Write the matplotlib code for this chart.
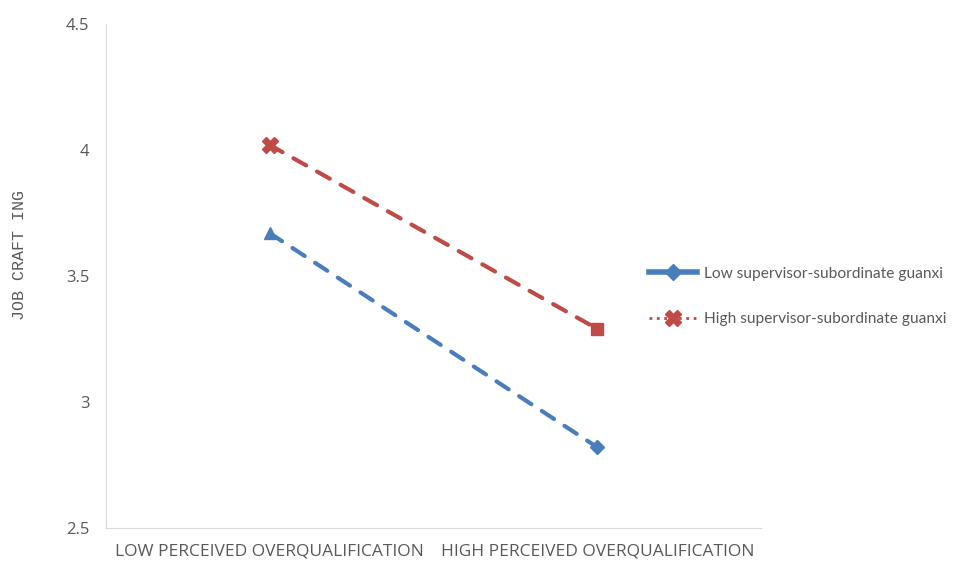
import matplotlib.pyplot as plt
from matplotlib.lines import Line2D

categories = ['LOW PERCEIVED OVERQUALIFICATION', 'HIGH PERCEIVED OVERQUALIFICATION']
low_guanxi = [3.67, 2.82]
high_guanxi = [4.02, 3.29]
labels = ['Low supervisor-subordinate guanxi', 'High supervisor-subordinate guanxi']

blue = '#4a7ebb'
red = '#be4b48'
grey = '#595959'

fig = plt.figure(figsize=(9.55, 5.61), dpi=100)
ax = fig.add_axes([0.111, 0.059, 0.686, 0.898])

x = [0.5, 1.5]
ax.plot(x, low_guanxi, color=blue, lw=3, ls=(0, (3.5, 3)), dash_capstyle='round',
        marker='D', ms=7, markevery=[1])
ax.plot(x[:1], low_guanxi[:1], color=blue, marker='^', ms=9, ls='none')
ax.plot(x, high_guanxi, color=red, lw=3, ls=(0, (3.5, 3)), dash_capstyle='round',
        marker='s', ms=9, markevery=[1])
ax.plot(x[:1], high_guanxi[:1], color=red, marker='X', ms=11, ls='none')

ax.set_xlim(0, 2)
ax.set_ylim(2.5, 4.5)
ax.set_yticks([2.5, 3, 3.5, 4, 4.5])
ax.set_yticklabels(['2.5', '3', '3.5', '4', '4.5'])
ax.set_xticks(x)
ax.set_xticklabels(categories)
ax.tick_params(length=0, colors=grey, labelsize=12)
ax.tick_params(axis='y', pad=12)
ax.tick_params(axis='x', pad=11)
for lab in ax.get_xticklabels():
    lab.set_fontfamily('Open Sans')
    lab.set_fontsize(12.5)
for lab in ax.get_yticklabels():
    lab.set_fontfamily('Open Sans')

for s in ['top', 'right']:
    ax.spines[s].set_visible(False)
for s in ['left', 'bottom']:
    ax.spines[s].set_color('#d9d9d9')

fig.text(20 / 955, 1 - 255 / 561, 'JOB CRAFT ING', family='Liberation Mono', fontsize=12,
         color=grey, rotation=90, ha='center', va='center')

handles = [
    Line2D([], [], color=blue, lw=4, ls='-', marker='D', ms=8),
    Line2D([], [], color=red, lw=2, ls=':', marker='X', ms=11),
]
fig.legend(handles, labels, loc='center left', bbox_to_anchor=(0.665, 0.4715),
           frameon=False, labelcolor=grey, handlelength=3.1,
           handletextpad=0.4, labelspacing=2.0,
           prop={'family': 'Lato', 'size': 11.2})

fig.savefig('out.png', dpi=100)
